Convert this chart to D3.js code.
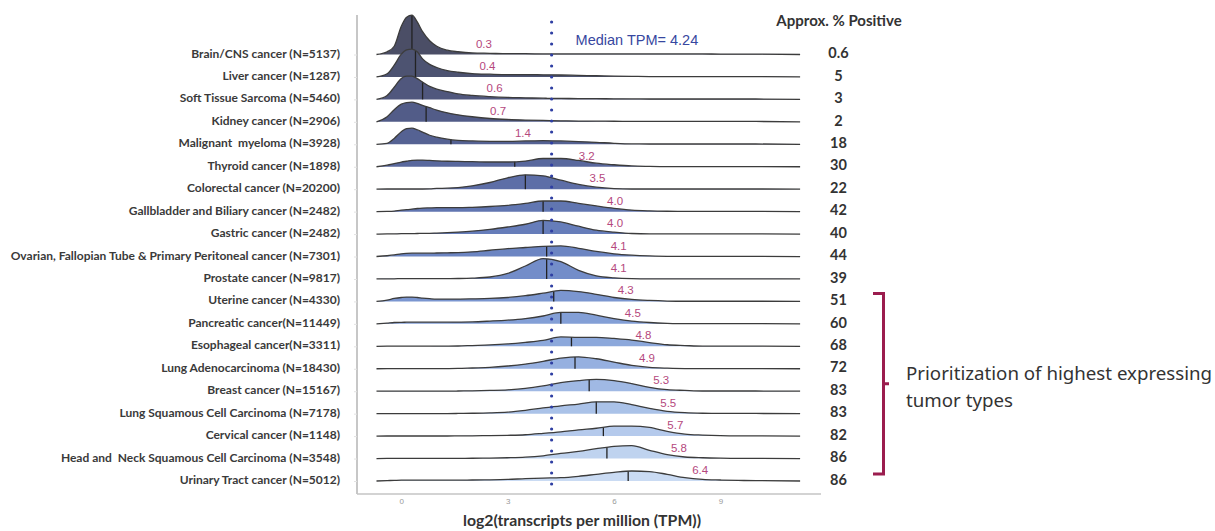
<!DOCTYPE html>
<html><head><meta charset="utf-8">
<script src="https://cdn.jsdelivr.net/npm/d3@7"></script>
<style>body{margin:0;background:#fff}svg{display:block}</style>
</head><body>
<svg id="c" width="1215" height="531"></svg>
<script>
// ---------- data ----------
const categories = [
 "Brain/CNS cancer (N=5137)","Liver cancer (N=1287)","Soft Tissue Sarcoma (N=5460)","Kidney cancer (N=2906)",
 "Malignant  myeloma (N=3928)","Thyroid cancer (N=1898)","Colorectal cancer (N=20200)","Gallbladder and Biliary cancer (N=2482)",
 "Gastric cancer (N=2482)","Ovarian, Fallopian Tube & Primary Peritoneal cancer (N=7301)","Prostate cancer (N=9817)",
 "Uterine cancer (N=4330)","Pancreatic cancer(N=11449)","Esophageal cancer(N=3311)","Lung Adenocarcinoma (N=18430)",
 "Breast cancer (N=15167)","Lung Squamous Cell Carcinoma (N=7178)","Cervical cancer (N=1148)",
 "Head and  Neck Squamous Cell Carcinoma (N=3548)","Urinary Tract cancer (N=5012)"];
const medians = [0.3,0.4,0.6,0.7,1.4,3.2,3.5,4.0,4.0,4.1,4.1,4.3,4.5,4.8,4.9,5.3,5.5,5.7,5.8,6.4];
const pctPositive = ["0.6","5","3","2","18","30","22","42","40","44","39","51","60","68","72","83","83","82","86","86"];
const overallMedian = 4.24;
const xTicks = [0,3,6,9];
// log2(TPM) sample points and relative density (% of tallest peak) read per row
const gridX = [-0.7,-0.4,-0.2,0,0.15,0.3,0.45,0.6,0.8,1.0,1.3,1.6,2,2.5,3,3.5,4,4.5,5,5.5,6,6.5,7,7.5,8,8.5,9,9.5,10,11.25];
const densities = [
 [0,7,21,72,95,100,83,58,35,21,11,7,4,3,2,2,1.5,1.5,1.5,1.5,1.5,1.5,1.5,1.5,1.5,1.5,1,1,1,0],
 [0,8,30,58,69,71,64,46,32,24,16,12,8.5,7,6,6,5.5,5,4,3,2,1.5,1,1,1,1,1,1,1,0],
 [0,10,31,53,59,59,53,44,33,26,20,14,10,7,5,4,3,2.5,2,1.8,1.5,1.2,1,1,1,1,1,1,1,0],
 [0,13,31,45,49,50,47,42,36,30,23,18,13,8.5,6,4.5,3.5,2.5,2,1.8,1.5,1.2,1,1,1,1,1,1,1,0],
 [0,2.5,15,32,40,41,37,31,23,18,13,10,8.5,7.5,7.5,8.5,9.5,8.5,7,5,2.5,1,0.8,0.8,0.8,0.8,0.8,0.8,0.8,0],
 [0,4,8,12,14,16,17,17,16,15,14,13.5,13,12,12,14.5,21,21,16,9,5,2,1,0.5,0.5,0.5,0.5,0.5,0.5,0],
 [0,0.5,0.5,0.5,0.5,0.5,0.5,0.5,0.8,2,2.5,4,8.5,17,29,36.5,34,23,12,5,1.5,0.5,0.5,0.5,0.5,0.5,0.5,0.5,0.5,0],
 [0,0.5,1.5,4,5,6.5,8,9,9.5,10,10,10,11,13,16,21,27,27,21,14.5,8.5,4,2,1,0.5,0.5,0.5,0.5,0.5,0],
 [0,0.3,0.5,1,1,1.2,1.5,1.8,2,2.5,3.5,5,7.5,12,18,25,35,31,20,10,5,1.5,0.5,0.5,0.5,0.5,0.5,0.5,0.5,0],
 [0,2,4,7,8,8.5,8.5,8.5,8.5,9,9.5,10,12,16,20,23,26,27,21,13,7,3.5,1.5,0.5,0.5,0.5,0.5,0.5,0.5,0],
 [0,0.5,0.5,0.8,0.8,0.8,0.8,0.8,0.8,0.8,1,1.2,2,5,14,33,52,44,22,8,3,1,0.5,0.5,0.5,0.5,0.5,0.5,0.5,0],
 [0,3.5,7.5,10,11,11,10,8.5,7,6,6,6,6.5,7.5,10,14.5,21,28,25,18,10,5,2.5,1,0.5,0.5,0.5,0.5,0.5,0],
 [0,2,3.5,4,4.2,4.3,4.3,4.3,4.3,4.3,4.3,4.5,5,7,9.5,13.5,20,29,29,22,13.5,7,3.5,1.5,0.5,0.5,0.5,0.5,0.5,0],
 [0,0.3,0.3,0.3,0.3,0.3,0.3,0.3,0.4,0.5,0.6,0.8,2,3.5,6,10,15,24,23,23,20,16,9.5,4,2,0.5,0.5,0.5,0.5,0],
 [0,0.3,0.3,0.3,0.3,0.3,0.3,0.3,0.3,0.4,0.5,0.8,2,3.5,7,12,19,27,30.5,25.5,17,8.5,3.5,1.5,0.5,0.5,0.5,0.5,0.5,0],
 [0,0.3,0.3,0.3,0.3,0.3,0.3,0.3,0.3,0.3,0.3,0.5,1,2,3.5,7,13.5,22,27,30,27,19.5,10,4,2,0.5,0.5,0.5,0.5,0],
 [0,0.3,0.3,0.3,0.3,0.3,0.3,0.3,0.3,0.3,0.3,0.5,1,2,4,8.5,14.5,20,24.5,30,30,23,13.5,6,2.5,1,0.5,0.5,0.5,0],
 [0,0.3,0.3,0.3,0.3,0.3,0.3,0.3,0.3,0.3,0.3,0.5,0.8,1.2,2,3.5,7,11,16,20,25.5,25.5,22,12,5,2.5,1,0.5,0.5,0],
 [0,0.3,0.3,0.3,0.3,0.3,0.3,0.3,0.3,0.3,0.3,0.5,0.8,1.2,2,3.5,7,13,18,25,31,33,21,10,4,2,1,0.5,0.5,0],
 [0,1,1.5,2,2,2,2,2,2,2,2,2,2.5,3,4,6,7.5,8.5,12,17,22,25.5,24,17,8.5,4,2.5,1.5,1,0]
];
const bracketText = ["Prioritization of highest expressing","tumor types"];
const bracketRows = [11, 19];

// ---------- drawing ----------
const svg = d3.select("#c");
const x = d3.scaleLinear().domain([0, 9]).range([401.3, 720.35]);
const yRow = d3.scalePoint().domain(categories).range([54.5, 481]);
const h = d3.scaleLinear().domain([0, 100]).range([0, 39.3]);
const fillColor = d3.interpolateRgbBasis(["#4b4e66","#56649c","#6c88c9","#97b3e2","#cadbf3"]);

// left axis line + small ticks
svg.append("line").attr("x1",357).attr("x2",357).attr("y1",15).attr("y2",494)
  .attr("stroke","#b5b5b5").attr("stroke-width",1.5);
const yAxis = d3.axisLeft(yRow).tickSize(3).tickFormat("");
svg.append("g").attr("transform","translate(357,0)").call(yAxis)
  .call(g=>g.select(".domain").remove())
  .call(g=>g.selectAll("line").attr("stroke","#e2e2e2"));

// bottom axis
svg.append("line").attr("x1",357).attr("x2",821).attr("y1",494).attr("y2",494)
  .attr("stroke","#c4c4c4").attr("stroke-width",1.5);
const xAxis = d3.axisBottom(x).tickValues(xTicks).tickSize(0).tickPadding(4);
svg.append("g").attr("transform","translate(0,494)").call(xAxis)
  .call(g=>g.select(".domain").remove())
  .call(g=>g.selectAll("text").attr("fill","#9a9a9a").attr("font-size",8).attr("font-family","Liberation Sans, Arial"));

svg.append("text").attr("x",582).attr("y",522).attr("text-anchor","middle").attr("dominant-baseline","middle")
  .attr("font-family","Lato").attr("font-weight",700).attr("font-size",15.8).attr("fill","#333")
  .text("log2(transcripts per million (TPM))");

// ridges
const area = d3.area().x(d=>x(d[0])).y0(0).y1(d=>-h(d[1])).curve(d3.curveMonotoneX);
const line = d3.line().x(d=>x(d[0])).y(d=>-h(d[1])).curve(d3.curveMonotoneX);
function heightAt(arr, v){
  for(let k=0;k<gridX.length-1;k++){
    if(v>=gridX[k] && v<=gridX[k+1]){
      const t=(v-gridX[k])/(gridX[k+1]-gridX[k]);
      return arr[k]+(arr[k+1]-arr[k])*t;
    }
  }
  return 0;
}
categories.forEach((c,i)=>{
  const pts = gridX.map((gx,k)=>[gx, densities[i][k]]);
  const g = svg.append("g").attr("transform",`translate(0,${yRow(c)})`);
  g.append("path").attr("d",area(pts)).attr("fill",fillColor(i/(categories.length-1)));
  g.append("line").attr("x1",x(medians[i])).attr("x2",x(medians[i]))
    .attr("y1",0).attr("y2",-h(heightAt(densities[i],medians[i])))
    .attr("stroke","#222").attr("stroke-width",1.3);
  g.append("path").attr("d",line(pts)).attr("fill","none").attr("stroke","#3c3c3c").attr("stroke-width",1.3);
  g.append("text").attr("x",x(medians[i])+72).attr("y",-10).attr("text-anchor","middle")
    .attr("dominant-baseline","middle").attr("font-family","Liberation Sans, Arial").attr("font-size",11.5)
    .attr("fill","#b5487d").text(medians[i].toFixed(1));
});

// overall median dotted line
svg.append("line").attr("x1",x(overallMedian)).attr("x2",x(overallMedian)).attr("y1",22).attr("y2",494)
  .attr("stroke","#2f3fa3").attr("stroke-width",3.2).attr("stroke-linecap","round").attr("stroke-dasharray","0 11");
svg.append("text").attr("x",x(overallMedian)+24).attr("y",41).attr("dominant-baseline","middle")
  .attr("font-family","Liberation Sans, Arial").attr("font-size",14.5).attr("fill","#3747a0")
  .text("Median TPM= " + overallMedian);

// row labels
svg.append("g").selectAll("text").data(categories).join("text")
  .attr("x",340).attr("y",d=>yRow(d)).attr("text-anchor","end").attr("dominant-baseline","middle")
  .attr("font-family","Lato").attr("font-weight",700).attr("font-size",12).attr("fill","#3a3a3a")
  .attr("xml:space","preserve").style("white-space","pre").text(d=>d);

// % positive column
svg.append("text").attr("x",839).attr("y",22).attr("text-anchor","middle").attr("dominant-baseline","middle")
  .attr("font-family","Lato").attr("font-weight",700).attr("font-size",15).attr("fill","#333").text("Approx. % Positive");
svg.append("g").selectAll("text").data(pctPositive).join("text")
  .attr("x",838.5).attr("y",(d,i)=>yRow(categories[i])).attr("text-anchor","middle").attr("dominant-baseline","middle")
  .attr("font-family","Lato").attr("font-weight",700).attr("font-size",14.5).attr("fill","#333").text(d=>d);

// bracket
const by0 = yRow(categories[bracketRows[0]]) - 8, by1 = yRow(categories[bracketRows[1]]) - 7;
const bmid = (by0+by1)/2;
svg.append("path").attr("d",`M873,${by0} H883.5 V${by1} H873 M883.5,${bmid} H889`)
  .attr("fill","none").attr("stroke","#9b1d4e").attr("stroke-width",3);
svg.append("g").selectAll("text").data(bracketText).join("text")
  .attr("x",906).attr("y",(d,i)=>bmid-9+i*27).attr("dominant-baseline","middle")
  .attr("font-family","Noto Sans").attr("font-size",18.7).attr("fill","#333").text(d=>d);
</script>
</body></html>
